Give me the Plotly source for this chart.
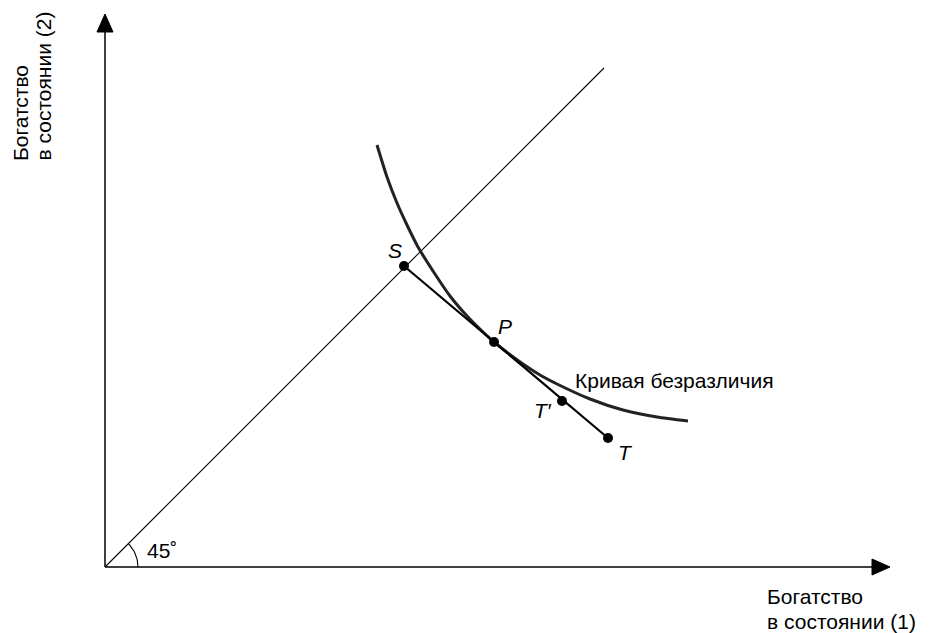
import numpy as np
import plotly.graph_objects as go

# ---- data (wealth units; origin at the corner of the axes) ----
AXIS_X_MAX = 785          # end of horizontal axis (arrow tip)
AXIS_Y_MAX = 553          # end of vertical axis (arrow tip)
DIAG_END = 499            # 45-degree line end (x = y)

curve_x = [272, 282, 292, 302, 313, 328, 345, 362, 378, 389, 418, 435, 452, 485, 518, 552, 583]
curve_y = [422, 390, 364, 342, 320, 296, 271, 251, 235, 225, 203, 192, 183, 168, 157, 150, 146]

point_names = ["S", "P", "T′", "T"]
point_x = [299, 389, 457, 503]
point_y = [301, 225, 166, 129]

x_label_lines = ["Богатство", "в состоянии (1)"]
y_label_lines = ["Богатство", "в состоянии (2)"]
curve_label = "Кривая безразличия"
angle_label = "45˚"

FONT = "Liberation Sans, Arial, sans-serif"
FS = 21

fig = go.Figure()

# axes
fig.add_trace(go.Scatter(x=[0, AXIS_X_MAX - 14], y=[0, 0], mode="lines",
                         line=dict(color="black", width=1.5), hoverinfo="skip"))
fig.add_trace(go.Scatter(x=[0, 0], y=[0, AXIS_Y_MAX - 14], mode="lines",
                         line=dict(color="black", width=1.5), hoverinfo="skip"))
# arrowheads
ah_len, ah_half = 18, 8
fig.add_trace(go.Scatter(x=[AXIS_X_MAX - ah_len, AXIS_X_MAX, AXIS_X_MAX - ah_len, AXIS_X_MAX - ah_len],
                         y=[ah_half, 0, -ah_half, ah_half], mode="lines", fill="toself",
                         fillcolor="black", line=dict(color="black", width=1), hoverinfo="skip"))
fig.add_trace(go.Scatter(x=[-ah_half, 0, ah_half, -ah_half],
                         y=[AXIS_Y_MAX - ah_len, AXIS_Y_MAX, AXIS_Y_MAX - ah_len, AXIS_Y_MAX - ah_len],
                         mode="lines", fill="toself",
                         fillcolor="black", line=dict(color="black", width=1), hoverinfo="skip"))

# 45-degree line
fig.add_trace(go.Scatter(x=[0, DIAG_END], y=[0, DIAG_END], mode="lines",
                         line=dict(color="black", width=1.1), hoverinfo="skip"))

# angle arc
th = np.linspace(0, np.pi / 4, 30)
r = 33
fig.add_trace(go.Scatter(x=r * np.cos(th), y=r * np.sin(th), mode="lines",
                         line=dict(color="black", width=1.1), hoverinfo="skip"))

# indifference curve
fig.add_trace(go.Scatter(x=curve_x, y=curve_y, mode="lines",
                         line=dict(color="#222222", width=3, shape="spline", smoothing=0.6),
                         hoverinfo="skip"))

# budget segment S-T with points
fig.add_trace(go.Scatter(x=[point_x[0], point_x[-1]], y=[point_y[0], point_y[-1]], mode="lines",
                         line=dict(color="black", width=2.2), hoverinfo="skip"))
fig.add_trace(go.Scatter(x=point_x, y=point_y, mode="markers",
                         marker=dict(color="black", size=10), hoverinfo="skip"))

# point labels
offsets = {"S": (-9, 16), "P": (11, 16), "T′": (-19, -9), "T": (17, -14)}
for name, px, py in zip(point_names, point_x, point_y):
    dx, dy = offsets[name]
    fig.add_annotation(x=px + dx, y=py + dy, text=f"<i>{name}</i>", showarrow=False,
                       font=dict(family=FONT, size=FS, color="black"))

fig.add_annotation(x=468, y=187, text=curve_label, showarrow=False, xanchor="left",
                   font=dict(family=FONT, size=FS, color="black"))
fig.add_annotation(x=40, y=17, text=angle_label, showarrow=False, xanchor="left",
                   font=dict(family=FONT, size=FS, color="black"))
for i, line in enumerate(x_label_lines):
    fig.add_annotation(x=660, y=-29 - 25 * i, text=line, showarrow=False, xanchor="left",
                       font=dict(family=FONT, size=FS, color="black"))
for i, line in enumerate(y_label_lines):
    fig.add_annotation(x=-85 + 23 * i, y=404, text=line, showarrow=False, textangle=-90,
                       xanchor="center", yanchor="bottom",
                       font=dict(family=FONT, size=FS, color="black"))

fig.update_layout(
    width=923, height=625, margin=dict(l=0, r=0, t=0, b=0),
    paper_bgcolor="white", plot_bgcolor="white", showlegend=False,
    xaxis=dict(range=[-97, 826], visible=False, fixedrange=True),
    yaxis=dict(range=[-66, 559], visible=False, fixedrange=True),
)

fig.write_html("out.html")
